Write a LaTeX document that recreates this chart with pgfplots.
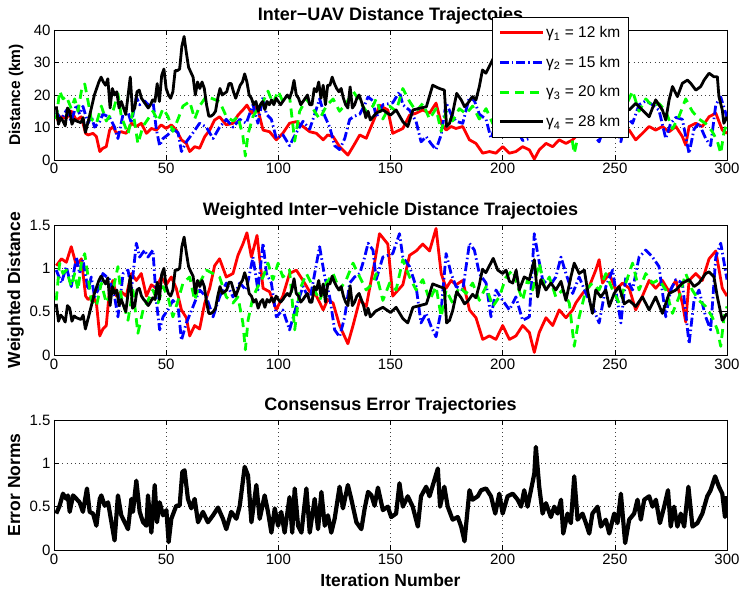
\documentclass[border=0pt]{standalone}
\usepackage{pgfplots}
\pgfplotsset{compat=1.18}
\usepackage{fontspec}
\setmainfont{Liberation Sans}

\pgfplotsset{
  mlab/.style={
    scale only axis, width=673pt, height=130pt,
    xmin=0, xmax=300, xtick={0,50,...,300},
    grid=major,
    major grid style={black!75, line width=0.5pt, dash pattern=on 0.6pt off 3.6pt},
    tick align=inside, major tick length=5pt,
    axis line style={black, line width=0.6pt},
    tick style={black, line width=0.6pt},
    ticklabel style={font=\fontsize{15}{15}\selectfont},
    /pgf/number format/assume math mode=true,
    ylabel style={at={(axis description cs:-0.0505,0.5)}, anchor=base},
    xlabel style={font=\bfseries\fontsize{17.5}{18}\selectfont},
    title style={font=\bfseries\fontsize{18}{18}\selectfont, at={(0.5,1)}, anchor=base, yshift=3pt},
  },
  rline/.style={red, line width=2.8pt, line join=round},
  bline/.style={blue, line width=2.8pt, line join=round, dash pattern=on 9pt off 3pt on 1.5pt off 3pt},
  gline/.style={green, line width=2.8pt, line join=round, dash pattern=on 9pt off 6pt},
  kline/.style={black, line width=2.8pt, line join=round},
}

\begin{document}
\begin{tikzpicture}
\path[use as bounding box] (0,0) rectangle (740pt,594pt);

% ---------------- top panel ----------------
\begin{axis}[mlab, at={(54pt,434pt)}, anchor=south west,
  ymin=0, ymax=40, ytick={0,10,20,30,40},
  title={Inter\textminus UAV Distance Trajectoies},
  ylabel={Distance (km)},
  ylabel style={font=\bfseries\fontsize{15.5}{16}\selectfont},
  legend style={at={(0.651,1.1)}, anchor=north west, draw=black, line width=0.6pt,
    font=\fontsize{15.5}{15.5}\selectfont, inner xsep=6pt, inner ysep=7pt, row sep=13pt,
    cells={anchor=west}},
  legend image code/.code={\draw[#1] (0pt,0pt) -- (43pt,0pt);},
]
\addplot[rline] coordinates {
(1,12.3)(3.3,13.3)(5.5,12.8)(7.7,15)(10,12.3)(12.2,13.3)(14.1,8.2)(15.2,7.7)(17.4,8.2)(18.9,7.2)
(20.4,2.6)(21.8,3.6)(23.3,4.1)(24.8,9.2)(26.3,10.3)(27.8,8.2)(30,8.7)(32.2,8.2)(34.5,11.3)(36.7,10.3)
(38.9,11.3)(41.2,8.2)(43.4,9.7)(45.6,9.2)(47.8,10.8)(50,9.7)(52.3,10.8)(54.5,9.2)(56.8,6.2)(59,5.1)
(60.5,2.6)(62.7,4.1)(64.9,3.6)(67.2,7.2)(69.4,9.2)(71.6,12.3)(73.8,13.3)(76.8,10.8)(79.8,11.3)(82,13.8)
(84.2,15.4)(86,16.9)(88,14.4)(90.5,16.6)(93.2,9.2)(96.1,8.7)(99.1,6.2)(102,8.2)(105,11.3)(108,11.8)
(111,10.3)(114,8.7)(117,8.2)(120,6.2)(122,7.7)(124.4,7.2)(127.3,4.1)(131,1.5)(133.3,4.1)(136.3,7.7)
(139.2,6.7)(140.7,9.2)(143,13)(145.1,16.8)(148.8,15.4)(151,8.2)(155.5,9.7)(158.5,13.8)(161.4,14.4)(164.4,15.4)
(167.4,14.4)(170.3,17.5)(172.6,11.3)(174.8,9.2)(177,10.3)(179.2,9.7)(182.2,10.3)(185.2,6.2)(188.1,5.1)(191.1,2.1)
(194.1,2.6)(197,2.1)(200,4.1)(203,2.1)(205.9,2.6)(208.9,4.1)(211.9,3.1)(214.1,0.3)(216.3,3.1)(219.3,5.1)
(222.3,4.1)(225.2,6.2)(228.2,5.1)(231.2,6.2)(232.6,7.2)(235.6,8.5)(238.6,9.5)(241.5,11.8)(243,13.2)(244.5,10)
(247.5,11.3)(250.4,9)(253.4,10)(256.4,9.2)(259.3,6.2)(262.3,8.2)(265.3,10.3)(268.2,9.2)(271.2,10.3)(274.2,8.7)
(277.2,10.3)(280.1,7.2)(281.6,4.6)(283.1,10.3)(286.1,11.3)(289,10.3)(292,13.3)(295,14.4)(297.9,9.2)(300,8.2)
};
\addlegendentry{γ\textsubscript{1} = 12 km}
\addplot[bline] coordinates {
(1,14.7)(3.3,12.5)(5.5,15.3)(7.7,11.9)(10,17)(11.4,14.1)(12.9,16.5)(15.2,11.3)(16.6,13.5)(18.1,10.1)
(20.4,11.9)(21.8,14.1)(24.8,13.1)(27,10.1)(28.5,6.6)(30.8,14.1)(33,14.7)(34.5,11.3)(36.7,19.4)(38.2,17)
(40.4,18.2)(41.9,17)(44.1,18.2)(45.6,9.5)(47.1,4.4)(48.6,6.6)(50.8,7.8)(53,9.5)(55.3,8.4)(56.8,2.6)
(59,5.6)(62,8.4)(64.9,11.3)(67.9,10.1)(70.9,6.6)(73.8,10.1)(76.8,12.5)(79.8,10.1)(82.8,12.5)(85.7,11.3)
(88.7,17)(90.9,11.3)(93.2,19.4)(94.7,14.1)(96.9,12.5)(99.1,6.6)(102,7.8)(105,4.4)(108,8.4)(111,11.9)
(114,9.5)(116.2,14.1)(118.4,18.8)(120.7,13.5)(122.9,10.1)(125.1,4.4)(127.3,3.2)(129.6,6.6)(131.8,12.5)(134,13.5)
(136.3,14.1)(138.5,17)(140,19.4)(142.2,18.2)(143.6,13.1)(146.6,17)(151,17.6)(154,21)(155.5,17)(158.5,15.3)
(161.4,11.9)(163.6,5.6)(165.9,7.2)(168.1,5)(170.3,3.2)(172.6,7.8)(174.8,17.6)(177,14.1)(179.2,11.9)(182.2,11.3)
(185.2,19.4)(187.4,18.2)(189.6,14.1)(192.6,12.5)(194.8,6.6)(197,11.3)(200,9.5)(203,7.8)(205.9,10.1)(208.9,6)
(211.9,6.6)(214.1,21)(215.6,17.6)(217.8,13.1)(220.8,11.9)(223.7,13.5)(226,17)(228.2,14.1)(231.2,10.7)(234.1,13.5)
(237.1,10.7)(240,8.4)(243,5.6)(246,11.9)(249,14.7)(252.7,5.6)(254.9,13.5)(257.9,11.3)(260.8,17)(263.8,18.2)
(266.8,17)(269.7,15.3)(272.7,6.6)(274.9,11.3)(277.2,13.1)(280.1,12.5)(283.1,2)(285.3,9.5)(287.5,11.3)(290.5,6.6)
(292.7,4.4)(295,17)(297.2,19.4)(300,13.1)
};
\addlegendentry{γ\textsubscript{2} = 15 km}
\addplot[gline] coordinates {
(1,12.6)(2.5,21.2)(4,18.8)(5.5,19.6)(7.7,15.8)(9.2,18.8)(10.7,15)(12.2,21.2)(13.7,23.4)(15.2,18)
(16.6,12.6)(18.9,11.2)(21.1,16.6)(23.3,12)(26.3,15)(28.5,20.4)(30,13.4)(33,8)(35.2,15)(37.4,5)
(39.7,10.4)(41.9,12.6)(44.1,15)(46.4,12)(48.6,15.8)(50.8,13.4)(53,8.8)(55.3,12.6)(57.5,16.6)(60.5,18)
(62.7,12.6)(64.9,16.6)(67.9,19.6)(70.9,18.8)(73.8,18)(76.8,13.4)(79.8,12)(82,13.4)(84.2,7.4)(85.3,1.2)
(86.5,8)(88.7,13.4)(90.9,15.8)(93.2,18)(95.4,21.2)(97.6,17.4)(99.9,21.2)(102,18)(105,19.6)(107.3,5.8)
(109.5,15)(112.5,18.8)(115.4,15.8)(118.4,12.6)(121.4,16.6)(124.4,18.8)(127.3,15)(130.3,17.4)(133.3,21.2)(136.3,18)
(139.2,15)(142.2,16.6)(143.6,18.8)(146.6,12.6)(149.6,16.6)(152.5,15)(155.5,22)(158.5,18)(161.4,15)(164.4,17.4)
(167.4,12.6)(170.3,15.8)(172.6,8.8)(174.8,15)(177.7,12)(180.7,15.8)(183.7,14.2)(186.6,16.6)(189.6,12.6)(192.6,15.8)
(195.6,11.2)(198.5,13.4)(201.5,18)(204.5,19.6)(206.7,15.8)(208.9,12.6)(211.1,17.4)(213.4,15)(216.3,21.2)(218.6,15.8)
(220.8,18)(223.7,13.4)(226.7,15)(229.7,12)(231.9,2)(234.1,8.8)(237.1,15)(240,16.6)(243,15)(246,18.8)
(249,15)(251.9,12)(254.9,16.6)(257.9,21.2)(260.8,15)(263.8,18.8)(266.8,16.6)(269.7,17.4)(272.7,15)(275.7,9.6)
(278.6,13.4)(281.6,18.8)(284.5,15)(287.5,12.6)(290.5,11.2)(293.4,8.8)(295.7,5.8)(297.2,2)(298.7,8.8)(300,11.2)
};
\addlegendentry{γ\textsubscript{3} = 20 km}
\addplot[kline] coordinates {
(1,16.5)(2,11)(3,13)(4,12)(5,10.5)(6,16)(7,15)(8,11)(9,12.5)(10,12)(12,11.5)(13,13)(14,8.5)(16,14)
(18,20)(20,24)(21,25.5)(22,24)(23,23)(24,25)(25,16)(26,22)(27,20)(28,21)(29,16)(30,18)(32,14)(34,25.5)
(35,15)(36,16)(37,21)(38,21.5)(39,19)(40,18)(41,17)(42,16)(43,17)(44,18.5)(45,18)(46,23.5)(47,18)(48,26)
(49,28)(50,22)(51,20)(52,19)(53,21)(54,27.5)(55,27.5)(56,28)(57,35)(58,38)(59,33)(60,28.5)(61,27)(62,25.5)
(63,20)(64,24)(65,22)(66,24)(67,22)(68,17)(69,13.5)(70,13.5)(71,14)(72,15)(73,19)(74,22)(75,20)(76,20.5)
(77,21)(78,23.5)(79,23.5)(80,21)(81,19)(82,21)(83,23)(84,24)(85,26.5)(86,24)(87,20)(88,19)(89,17)(90,18)
(91,15)(92,17)(93,18)(94,15.5)(95,18)(96,17)(97,18.5)(98,17)(99,19)(100,18)(101,17)(102,18)(103,19)(104,20)
(105,19)(106,21)(107,24.5)(108,20)(109,19)(110,17)(111,18)(112,19)(113,20)(114,17)(115,17)(116,22)(117,21)(118,24)
(119,19)(120,23)(121,17)(122,23)(123,23)(124,25.5)(125,23.5)(126,22)(127,21)(128,22)(129,19)(130,17)(131,16)(132,22.5)
(133,16)(134,17)(135,19)(136,20)(137,18)(138,16)(139,13)(140,15)(141,12.3)(143.6,14.4)(146.6,15.4)(150,13.8)
(152.5,15.4)(155.5,11.8)(157.7,10.3)(160,15.4)(163,15.9)(166,16.4)(168.8,23)(171.8,22)(174,21.5)(175,10.3)
(176.3,11.3)(177.7,14.4)(179.5,20.5)(181.5,18.5)(183,16.4)(184.4,17.4)(186.6,19.5)(188.1,18.5)(189.6,22.6)(191,27.7)
(192.5,26.7)(195.8,31.2)(197.8,27.4)(200,26.3)(201.5,27.4)(203,23.8)(204.5,23.2)(206,27.4)(207.4,21)(209.6,25.2)
(211.9,24.4)(214.1,30.8)(215.6,18.8)(217,24.4)(219.3,21)(221.5,23.2)(223.7,21)(226,23.8)(228.2,17.6)(230.4,25.2)
(231.9,29.7)(234.1,26.3)(236.4,27.4)(237.8,21)(240,13.4)(241.5,21)(243.7,18.8)(246,21)(247.5,15.7)(249.7,19.9)
(251.9,22.1)(254.2,16.5)(256.4,15.4)(259.3,17.4)(262.3,15.4)(265.3,13.3)(268.2,18.5)(271.2,15.4)(272.7,12.3)(274.2,18.5)
(275.7,22.6)(277.9,19.5)(280.1,23.6)(282.4,24.6)(283.8,23.6)(286.1,21.5)(288.3,22.6)(289.8,24.6)(292,26.7)(294.2,25.6)
(295.7,25.6)(296.4,19.5)(297.9,15.4)(298.6,11.3)(300,13.3)
};
\addlegendentry{γ\textsubscript{4} = 28 km}
\end{axis}

% ---------------- middle panel ----------------
\begin{axis}[mlab, at={(54pt,239pt)}, anchor=south west,
  ymin=0, ymax=1.5, ytick={0,0.5,1,1.5},
  title={Weighted Inter\textminus vehicle Distance Trajectoies},
  ylabel={Weighted Distance},
  ylabel style={font=\bfseries\fontsize{17.5}{18}\selectfont},
]
\addplot[rline] coordinates {
(1,1.03)(3.3,1.11)(5.5,1.07)(7.7,1.25)(10,1.03)(12.2,1.11)(14.1,0.68)(15.2,0.64)(17.4,0.68)(18.9,0.60)
(20.4,0.22)(21.8,0.30)(23.3,0.34)(24.8,0.77)(26.3,0.86)(27.8,0.68)(30,0.73)(32.2,0.68)(34.5,0.94)(36.7,0.86)
(38.9,0.94)(41.2,0.68)(43.4,0.81)(45.6,0.77)(47.8,0.90)(50,0.81)(52.3,0.90)(54.5,0.77)(56.8,0.52)(59,0.43)
(60.5,0.22)(62.7,0.34)(64.9,0.30)(67.2,0.60)(69.4,0.77)(71.6,1.03)(73.8,1.11)(76.8,0.90)(79.8,0.94)(82,1.15)
(84.2,1.28)(86,1.41)(88,1.13)(90.5,1.38)(93.2,0.77)(96.1,0.73)(99.1,0.52)(102,0.68)(105,0.94)(108,0.98)
(111,0.86)(114,0.73)(117,0.68)(120,0.52)(122,0.64)(124.4,0.60)(127.3,0.34)(131,0.13)(133.3,0.34)(136.3,0.64)
(139.2,0.56)(140.7,0.77)(143,1.08)(145.1,1.40)(148.8,1.28)(151,0.68)(155.5,0.81)(158.5,1.15)(161.4,1.20)(164.4,1.28)
(167.4,1.20)(170.3,1.46)(172.6,0.94)(174.8,0.77)(177,0.86)(179.2,0.81)(182.2,0.86)(185.2,0.52)(188.1,0.43)(191.1,0.18)
(194.1,0.22)(197,0.18)(200,0.34)(203,0.18)(205.9,0.22)(208.9,0.34)(211.9,0.26)(214.1,0.03)(216.3,0.26)(219.3,0.43)
(222.3,0.34)(225.2,0.52)(228.2,0.43)(231.2,0.52)(232.6,0.60)(235.6,0.71)(238.6,0.79)(241.5,0.98)(243,1.10)(244.5,0.83)
(247.5,0.94)(250.4,0.75)(253.4,0.83)(256.4,0.77)(259.3,0.52)(262.3,0.68)(265.3,0.86)(268.2,0.77)(271.2,0.86)(274.2,0.73)
(277.2,0.86)(280.1,0.60)(281.6,0.38)(283.1,0.86)(286.1,0.94)(289,0.86)(292,1.11)(295,1.20)(297.9,0.77)(300,0.68)
};
\addplot[bline] coordinates {
(1,0.98)(3.3,0.83)(5.5,1.02)(7.7,0.79)(10,1.13)(11.4,0.94)(12.9,1.10)(15.2,0.75)(16.6,0.90)(18.1,0.67)
(20.4,0.79)(21.8,0.94)(24.8,0.87)(27,0.67)(28.5,0.44)(30.8,0.94)(33,0.98)(34.5,0.75)(36.7,1.29)(38.2,1.13)
(40.4,1.21)(41.9,1.13)(44.1,1.21)(45.6,0.63)(47.1,0.29)(48.6,0.44)(50.8,0.52)(53,0.63)(55.3,0.56)(56.8,0.17)
(59,0.37)(62,0.56)(64.9,0.75)(67.9,0.67)(70.9,0.44)(73.8,0.67)(76.8,0.83)(79.8,0.67)(82.8,0.83)(85.7,0.75)
(88.7,1.13)(90.9,0.75)(93.2,1.29)(94.7,0.94)(96.9,0.83)(99.1,0.44)(102,0.52)(105,0.29)(108,0.56)(111,0.79)
(114,0.63)(116.2,0.94)(118.4,1.25)(120.7,0.90)(122.9,0.67)(125.1,0.29)(127.3,0.21)(129.6,0.44)(131.8,0.83)(134,0.90)
(136.3,0.94)(138.5,1.13)(140,1.29)(142.2,1.21)(143.6,0.87)(146.6,1.13)(151,1.17)(154,1.40)(155.5,1.13)(158.5,1.02)
(161.4,0.79)(163.6,0.37)(165.9,0.48)(168.1,0.33)(170.3,0.21)(172.6,0.52)(174.8,1.17)(177,0.94)(179.2,0.79)(182.2,0.75)
(185.2,1.29)(187.4,1.21)(189.6,0.94)(192.6,0.83)(194.8,0.44)(197,0.75)(200,0.63)(203,0.52)(205.9,0.67)(208.9,0.40)
(211.9,0.44)(214.1,1.40)(215.6,1.17)(217.8,0.87)(220.8,0.79)(223.7,0.90)(226,1.13)(228.2,0.94)(231.2,0.71)(234.1,0.90)
(237.1,0.71)(240,0.56)(243,0.37)(246,0.79)(249,0.98)(252.7,0.37)(254.9,0.90)(257.9,0.75)(260.8,1.13)(263.8,1.21)
(266.8,1.13)(269.7,1.02)(272.7,0.44)(274.9,0.75)(277.2,0.87)(280.1,0.83)(283.1,0.13)(285.3,0.63)(287.5,0.75)(290.5,0.44)
(292.7,0.29)(295,1.13)(297.2,1.29)(300,0.87)
};
\addplot[gline] coordinates {
(1,0.63)(2.5,1.06)(4,0.94)(5.5,0.98)(7.7,0.79)(9.2,0.94)(10.7,0.75)(12.2,1.06)(13.7,1.17)(15.2,0.90)
(16.6,0.63)(18.9,0.56)(21.1,0.83)(23.3,0.60)(26.3,0.75)(28.5,1.02)(30,0.67)(33,0.40)(35.2,0.75)(37.4,0.25)
(39.7,0.52)(41.9,0.63)(44.1,0.75)(46.4,0.60)(48.6,0.79)(50.8,0.67)(53,0.44)(55.3,0.63)(57.5,0.83)(60.5,0.90)
(62.7,0.63)(64.9,0.83)(67.9,0.98)(70.9,0.94)(73.8,0.90)(76.8,0.67)(79.8,0.60)(82,0.67)(84.2,0.37)(85.3,0.06)
(86.5,0.40)(88.7,0.67)(90.9,0.79)(93.2,0.90)(95.4,1.06)(97.6,0.87)(99.9,1.06)(102,0.90)(105,0.98)(107.3,0.29)
(109.5,0.75)(112.5,0.94)(115.4,0.79)(118.4,0.63)(121.4,0.83)(124.4,0.94)(127.3,0.75)(130.3,0.87)(133.3,1.06)(136.3,0.90)
(139.2,0.75)(142.2,0.83)(143.6,0.94)(146.6,0.63)(149.6,0.83)(152.5,0.75)(155.5,1.10)(158.5,0.90)(161.4,0.75)(164.4,0.87)
(167.4,0.63)(170.3,0.79)(172.6,0.44)(174.8,0.75)(177.7,0.60)(180.7,0.79)(183.7,0.71)(186.6,0.83)(189.6,0.63)(192.6,0.79)
(195.6,0.56)(198.5,0.67)(201.5,0.90)(204.5,0.98)(206.7,0.79)(208.9,0.63)(211.1,0.87)(213.4,0.75)(216.3,1.06)(218.6,0.79)
(220.8,0.90)(223.7,0.67)(226.7,0.75)(229.7,0.60)(231.9,0.10)(234.1,0.44)(237.1,0.75)(240,0.83)(243,0.75)(246,0.94)
(249,0.75)(251.9,0.60)(254.9,0.83)(257.9,1.06)(260.8,0.75)(263.8,0.94)(266.8,0.83)(269.7,0.87)(272.7,0.75)(275.7,0.48)
(278.6,0.67)(281.6,0.94)(284.5,0.75)(287.5,0.63)(290.5,0.56)(293.4,0.44)(295.7,0.29)(297.2,0.10)(298.7,0.44)(300,0.56)
};
\addplot[kline] coordinates {
(1,0.59)(2,0.39)(3,0.46)(4,0.43)(5,0.38)(6,0.57)(7,0.54)(8,0.39)(9,0.45)(10,0.43)(12,0.41)(13,0.46)(14,0.30)(16,0.50)
(18,0.71)(20,0.86)(21,0.91)(22,0.86)(23,0.82)(24,0.89)(25,0.57)(26,0.79)(27,0.71)(28,0.75)(29,0.57)(30,0.64)(32,0.50)(34,0.91)
(35,0.54)(36,0.57)(37,0.75)(38,0.77)(39,0.68)(40,0.64)(41,0.61)(42,0.57)(43,0.61)(44,0.66)(45,0.64)(46,0.84)(47,0.64)(48,0.93)
(49,1.00)(50,0.79)(51,0.71)(52,0.68)(53,0.75)(54,0.98)(55,0.98)(56,1.00)(57,1.25)(58,1.36)(59,1.18)(60,1.02)(61,0.96)(62,0.91)
(63,0.71)(64,0.86)(65,0.79)(66,0.86)(67,0.79)(68,0.61)(69,0.48)(70,0.48)(71,0.50)(72,0.54)(73,0.68)(74,0.79)(75,0.71)(76,0.73)
(77,0.75)(78,0.84)(79,0.84)(80,0.75)(81,0.68)(82,0.75)(83,0.82)(84,0.86)(85,0.95)(86,0.86)(87,0.71)(88,0.68)(89,0.61)(90,0.64)
(91,0.54)(92,0.61)(93,0.64)(94,0.55)(95,0.64)(96,0.61)(97,0.66)(98,0.61)(99,0.68)(100,0.64)(101,0.61)(102,0.64)(103,0.68)(104,0.71)
(105,0.68)(106,0.75)(107,0.88)(108,0.71)(109,0.68)(110,0.61)(111,0.64)(112,0.68)(113,0.71)(114,0.61)(115,0.61)(116,0.79)(117,0.75)(118,0.86)
(119,0.68)(120,0.82)(121,0.61)(122,0.82)(123,0.82)(124,0.91)(125,0.84)(126,0.79)(127,0.75)(128,0.79)(129,0.68)(130,0.61)(131,0.57)(132,0.80)
(133,0.57)(134,0.61)(135,0.68)(136,0.71)(137,0.64)(138,0.57)(139,0.46)(140,0.54)(141,0.44)(143.6,0.51)(146.6,0.55)(150,0.49)
(152.5,0.55)(155.5,0.42)(157.7,0.37)(160,0.55)(163,0.57)(166,0.59)(168.8,0.82)(171.8,0.79)(174,0.77)(175,0.37)
(176.3,0.40)(177.7,0.51)(179.5,0.73)(181.5,0.66)(183,0.59)(184.4,0.62)(186.6,0.70)(188.1,0.66)(189.6,0.81)(191,0.99)
(192.5,0.95)(195.8,1.115)(197.8,0.98)(200,0.94)(201.5,0.98)(203,0.85)(204.5,0.83)(206,0.98)(207.4,0.75)(209.6,0.90)
(211.9,0.87)(214.1,1.10)(215.6,0.67)(217,0.87)(219.3,0.75)(221.5,0.83)(223.7,0.75)(226,0.85)(228.2,0.63)(230.4,0.90)
(231.9,1.06)(234.1,0.94)(236.4,0.98)(237.8,0.75)(240,0.48)(241.5,0.75)(243.7,0.67)(246,0.75)(247.5,0.56)(249.7,0.71)
(251.9,0.79)(254.2,0.59)(256.4,0.63)(259.3,0.56)(262.3,0.67)(265.3,0.52)(268.2,0.67)(271.2,0.48)(274.2,0.71)(277.2,0.75)
(280.1,0.83)(283.1,0.87)(285.3,0.79)(287.5,0.83)(290.5,0.94)(292,0.96)(294.2,0.90)(295.7,0.67)(297.9,0.40)(300,0.48)
};
\end{axis}

% ---------------- bottom panel ----------------
\begin{axis}[mlab, at={(54pt,44pt)}, anchor=south west,
  ymin=0, ymax=1.5, ytick={0,0.5,1,1.5},
  title={Consensus Error Trajectories},
  ylabel={Error Norms},
  ylabel style={font=\bfseries\fontsize{17.5}{18}\selectfont},
  xlabel={Iteration Number},
  xlabel style={at={(axis description cs:0.5,-0.231)}, anchor=center},
]
\addplot[black, line width=4.2pt, line join=round] coordinates {
(1,0.42)(2.5,0.51)(4,0.65)(5.5,0.59)(6.2,0.63)(7,0.44)(8.5,0.63)(10,0.59)(11.4,0.55)(12.9,0.44)
(14.7,0.71)(15.9,0.44)(17.4,0.42)(18.9,0.28)(20.4,0.59)(21.1,0.63)(22.6,0.51)(24.1,0.55)(25.6,0.32)(27,0.11)
(28.5,0.63)(30,0.40)(31.5,0.32)(33,0.24)(34.5,0.59)(35.2,0.44)(36.7,0.80)(38.2,0.44)(39.7,0.32)(41.2,0.28)
(41.9,0.63)(43.4,0.20)(44.9,0.75)(45.9,0.32)(47.1,0.55)(48.6,0.40)(50.1,0.46)(51.1,0.09)(52.3,0.36)(54.5,0.51)
(56,0.51)(57.2,0.90)(58.2,0.92)(59.7,0.59)(61.2,0.48)(62.7,0.59)(64.2,0.32)(66.4,0.44)(68.6,0.32)(70.9,0.40)
(73.1,0.49)(75.3,0.36)(76.8,0.24)(79,0.44)(81.3,0.36)(82.8,0.51)(85,0.96)(86.5,0.86)(88,0.32)(90.2,0.75)
(91.7,0.36)(93.9,0.63)(95.4,0.44)(96.9,0.20)(98.4,0.48)(99.9,0.28)(101.3,0.44)(102.8,0.20)(105,0.61)(106.2,0.20)
(107.3,0.71)(108.8,0.28)(110.3,0.20)(112.5,0.71)(114,0.20)(116.2,0.59)(117.7,0.24)(119.2,0.67)(120.7,0.28)(122.1,0.40)
(123.6,0.20)(125.1,0.36)(127.3,0.73)(128.8,0.48)(131,0.75)(132.5,0.59)(134.8,0.32)(137,0.24)(138.5,0.48)(140,0.67)
(141.5,0.63)(142.9,0.51)(144.4,0.72)(146.6,0.46)(148.8,0.50)(150.3,0.38)(152.5,0.42)(154,0.77)(155.5,0.50)(157.7,0.62)
(159.9,0.50)(162.2,0.27)(163.6,0.62)(165.9,0.73)(167.4,0.62)(169.6,0.81)(171.1,0.94)(172.1,0.50)(174,0.73)(175.5,0.50)
(177.7,0.35)(180,0.38)(181.5,0.27)(183,0.10)(185.2,0.69)(186.6,0.58)(188.9,0.62)(190.4,0.69)(192.6,0.71)(194.8,0.62)
(196.7,0.42)(198.5,0.65)(200,0.42)(202.2,0.62)(204.5,0.65)(206.7,0.58)(208.2,0.50)(209.6,0.69)(211.1,0.50)(212.6,0.69)
(214.1,0.88)(214.8,1.19)(216.3,0.73)(217.8,0.42)(219.3,0.54)(221.5,0.38)(223,0.50)(224.5,0.42)(226,0.58)(227,0.19)
(228.9,0.42)(230.4,0.31)(231.9,0.85)(233.4,0.35)(235.6,0.42)(237.1,0.31)(238.6,0.19)(240,0.42)(242.3,0.50)(243.8,0.27)
(246,0.35)(247.5,0.19)(249.7,0.42)(251.2,0.31)(252.7,0.65)(254.6,0.08)(256.4,0.35)(258.6,0.42)(260.1,0.58)(261.6,0.35)
(263.1,0.58)(265.3,0.62)(266.8,0.50)(268.3,0.58)(270.1,0.31)(272,0.50)(273.7,0.69)(274.9,0.27)(276.4,0.50)(277.9,0.27)
(279.4,0.42)(280.9,0.27)(282.8,0.73)(284.6,0.27)(286.8,0.31)(289,0.42)(291.2,0.62)(292.7,0.69)(294.7,0.85)(296.4,0.73)
(297.9,0.65)(299.1,0.38)(300,0.62)
};
\end{axis}
\end{tikzpicture}
\end{document}
